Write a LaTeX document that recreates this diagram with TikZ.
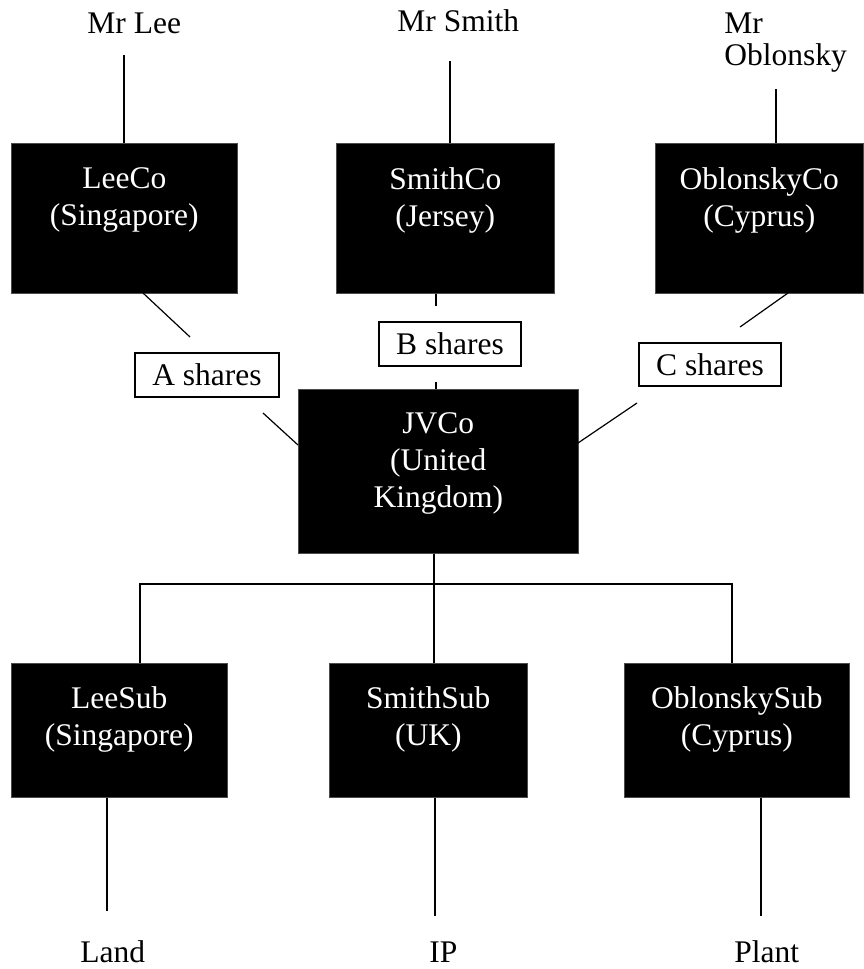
\documentclass[tikz,border=0pt]{standalone}
\usepackage{fontspec}
\setmainfont{Liberation Serif}
\usetikzlibrary{positioning}

\tikzset{
  entity/.style={fill=black, draw=black!70, line width=0.3pt, anchor=north west, inner sep=0pt},
  entitytext/.style={text=white, align=center, inner sep=0pt, font=\fontsize{15.75pt}{18.5pt}\selectfont},
  sharebox/.style={draw, line width=1pt, fill=white, inner sep=0pt, minimum height=22pt, font=\fontsize{15.75pt}{18.5pt}\selectfont},
  person/.style={inner sep=0pt, align=left, font=\fontsize{15.75pt}{16pt}\selectfont},
  link/.style={line width=0.6pt}
}

\begin{document}
\begin{tikzpicture}[x=0.5pt, y=-0.5pt]
  \useasboundingbox (0,0) rectangle (863,969);

  % Shareholders
  \node[person, anchor=base west] (mrlee) at (87,33) {Mr Lee};
  \node[person, anchor=base west] (mrsmith) at (397,32) {Mr Smith};
  \node[person, anchor=north west] (mroblonsky) at (724,12.4) {Mr\\Oblonsky};

  % Holding companies
  \node[entity, minimum width=113pt, minimum height=75pt] (leeco) at (11,143) {};
  \node[entity, minimum width=109pt, minimum height=75pt] (smithco) at (336,143) {};
  \node[entity, minimum width=104pt, minimum height=75pt] (oblonskyco) at (655,143) {};
  \node[entitytext, below=12.3pt of leeco.north] (leeco-t) {LeeCo\\(Singapore)};
  \node[entitytext, below=12.3pt of smithco.north] (smithco-t) {SmithCo\\(Jersey)};
  \node[entitytext, below=12.3pt of oblonskyco.north] (oblonskyco-t) {OblonskyCo\\(Cyprus)};

  \coordinate (lee-in) at (124,55);
  \coordinate (smith-in) at (450,61);
  \coordinate (oblonsky-in) at (776,89);
  \draw[link] (lee-in) -- (lee-in |- leeco.north);
  \draw[link] (smith-in) -- (smith-in |- smithco.north);
  \draw[link] (oblonsky-in) -- (oblonsky-in |- oblonskyco.north);

  % Joint venture
  \node[entity, minimum width=140pt, minimum height=82pt] (jvco) at (298,389) {};
  \node[entitytext, below=11.6pt of jvco.north] (jvco-t) {JVCo\\(United\\Kingdom)};

  % Share classes
  \node[sharebox, minimum width=72pt] (ashares) at (207,375) {A shares};
  \node[sharebox, minimum width=71pt] (bshares) at (450,344) {B shares};
  \node[sharebox, minimum width=71pt, minimum height=21.5pt] (cshares) at (710,364.5) {C shares};

  \coordinate (a0) at (143,293);
  \coordinate (a1) at (190,337);
  \coordinate (a2) at (263,413);
  \coordinate (a3) at (298,445);
  \draw[link] (a0) -- (a1);
  \draw[link] (a2) -- (a3);

  \coordinate (b1) at (436,306);
  \coordinate (b2) at (436,382);
  \draw[link] (b1 |- smithco.south) -- (b1);
  \draw[link] (b2) -- (b2 |- jvco.north);

  \coordinate (c0) at (788,293);
  \coordinate (c1) at (740,327);
  \coordinate (c2) at (637,403);
  \coordinate (c3) at (578,443);
  \draw[link] (c0) -- (c1);
  \draw[link] (c2) -- (c3);

  % Subsidiaries
  \node[entity, minimum width=108pt, minimum height=67pt] (leesub) at (11,663) {};
  \node[entity, minimum width=99pt, minimum height=67pt] (smithsub) at (329,663) {};
  \node[entity, minimum width=112.5pt, minimum height=67pt] (oblonskysub) at (624,663) {};
  \node[entitytext, below=11.8pt of leesub.north] (leesub-t) {LeeSub\\(Singapore)};
  \node[entitytext, below=11.8pt of smithsub.north] (smithsub-t) {SmithSub\\(UK)};
  \node[entitytext, below=11.8pt of oblonskysub.north] (oblonskysub-t) {OblonskySub\\(Cyprus)};

  \coordinate (bus) at (434,584);
  \coordinate (bus-l) at (140,584);
  \coordinate (bus-r) at (732,584);
  \draw[link] (jvco.south -| bus) -- (bus |- smithsub.north);
  \draw[link] (leesub.north -| bus-l) -- (bus-l) -- (bus-r) -- (oblonskysub.north -| bus-r);

  % Assets
  \node[person, anchor=base west] (land) at (80,962) {Land};
  \node[person, anchor=base west] (ip) at (429,962) {IP};
  \node[person, anchor=base west] (plant) at (734,962) {Plant};

  \coordinate (land-in) at (107,911);
  \coordinate (ip-in) at (435,916);
  \coordinate (plant-in) at (761,916);
  \draw[link] (leesub.south -| land-in) -- (land-in);
  \draw[link] (smithsub.south -| ip-in) -- (ip-in);
  \draw[link] (oblonskysub.south -| plant-in) -- (plant-in);
\end{tikzpicture}
\end{document}
